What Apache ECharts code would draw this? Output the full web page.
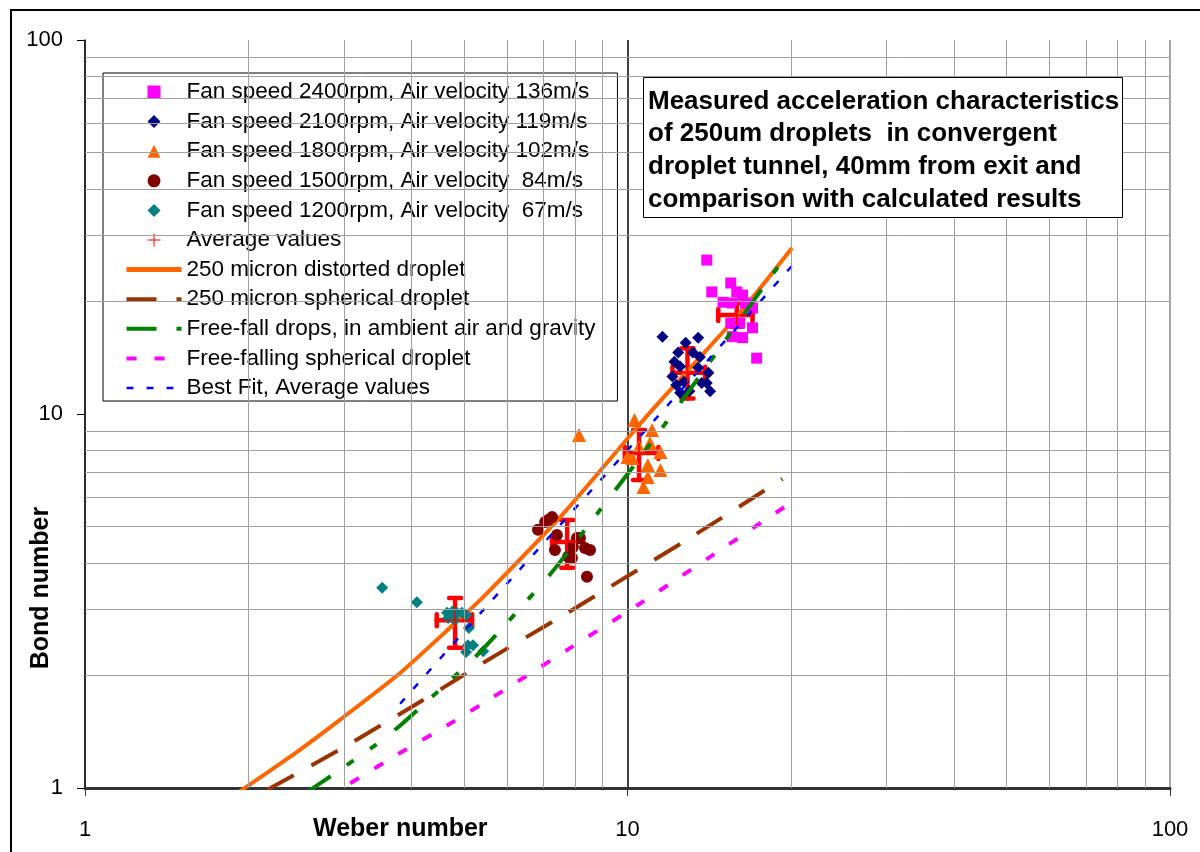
<!DOCTYPE html>
<html>
<head>
<meta charset="utf-8">
<title>Bond number vs Weber number</title>
<script src="https://cdn.jsdelivr.net/npm/echarts@6/dist/echarts.min.js"></script>
<style>
  html, body { margin: 0; padding: 0; background: #fff; }
  #chart { width: 1200px; height: 852px; }
</style>
</head>
<body>
<div id="chart"></div>
<script>
// measured points [Weber, Bond]
const fan2400 = [[14.0, 25.8], [15.5, 22.4], [14.3, 21.2], [15.9, 21.2], [16.3, 20.8], [15.0, 19.9], [15.6, 19.8],
  [16.5, 19.8], [17.0, 19.2], [15.5, 17.5], [16.1, 17.5], [17.0, 17.0], [15.6, 16.1], [16.3, 16.0], [17.3, 14.1]]
const fan2100 = [[11.6, 16.1], [12.8, 15.5], [13.5, 16.0], [12.4, 14.6], [13.2, 14.6], [13.6, 14.2], [12.2, 13.8],
  [12.5, 13.4], [13.5, 13.3], [14.1, 12.9], [12.1, 12.6], [12.7, 12.2], [12.3, 11.95], [13.7, 12.1], [14.0, 12.1],
  [13.0, 11.5], [12.5, 11.4], [14.2, 11.5]]
const fan1800 = [[10.3, 9.64], [8.14, 8.79], [11.1, 9.06], [10.5, 8.16], [11.0, 8.36], [10.0, 7.67], [10.2, 7.63],
  [11.5, 7.91], [10.9, 7.30], [10.9, 6.79], [11.5, 7.08], [10.7, 6.38]]
const fan1500 = [[7.26, 5.30], [7.14, 5.21], [7.05, 5.14], [6.84, 4.90], [7.41, 4.75], [8.07, 4.66], [8.17, 4.66],
  [7.93, 4.41], [8.35, 4.38], [8.53, 4.33], [7.35, 4.33], [7.77, 4.15], [7.90, 4.12], [8.42, 3.67]]
const fan1200 = [[3.53, 3.43], [4.09, 3.14], [4.65, 2.94], [4.75, 2.96], [4.85, 2.94], [4.95, 2.94], [5.04, 2.90],
  [4.67, 2.85], [4.80, 2.81], [5.10, 2.68], [5.08, 2.41], [5.19, 2.41], [5.04, 2.31], [5.42, 2.32]]

// averages: [x, y, xLow, xHigh, yLow, yHigh]
const averages = [
  [4.81, 2.81, 4.45, 5.17, 2.37, 3.22],
  [7.74, 4.55, 7.26, 8.28, 3.88, 5.21],
  [10.5, 7.87, 9.89, 11.4, 6.66, 9.06],
  [12.9, 12.9, 12.1, 13.9, 11.0, 15.0],
  [15.9, 18.4, 14.7, 17.0, 17.1, 19.8]
]

// calculated curves
const distorted = [[1.81, 0.92], [2.46, 1.25], [3.0, 1.55], [3.81, 2.03], [4.81, 2.76], [5.35, 3.18], [7.6, 5.4],
  [10.7, 9.64], [13.0, 13.2], [16.1, 18.6], [20.1, 27.8]]
const spherical = [[2.17, 0.99], [2.93, 1.26], [4.29, 1.75], [5.53, 2.20], [7.57, 2.88], [9.13, 3.40], [13.3, 4.75], [19.3, 6.70]]
const freeFall = [[2.55, 0.97], [2.85, 1.08], [3.45, 1.31], [3.81, 1.47], [4.47, 1.81], [5.35, 2.31], [7.26, 3.78],
  [8.9, 5.54], [10.2, 7.17], [11.8, 9.52], [14.6, 14.6], [18.9, 24.6], [19.9, 26.1]]
const freeFallSph = [[2.79, 0.94], [3.05, 1.02], [3.77, 1.23], [4.65, 1.47], [5.65, 1.75], [7.74, 2.34], [10.5, 3.10],
  [14.2, 4.15], [19.5, 5.65]]
const bestFit = [[3.81, 1.68], [5.42, 2.99], [10, 8.0], [20.4, 25.5]]

// gridlines
const minorTicks = [2, 3, 4, 5, 6, 7, 8, 9, 20, 30, 40, 50, 60, 70, 80, 90]

const titleLines = [
  'Measured acceleration characteristics',
  'of 250um droplets  in convergent',
  'droplet tunnel, 40mm from exit and',
  'comparison with calculated results'
]

const FONT = 'Liberation Sans, Arial, sans-serif'
const chart = echarts.init(document.getElementById('chart'))

const names = [
  'Fan speed 2400rpm, Air velocity 136m/s',
  'Fan speed 2100rpm, Air velocity 119m/s',
  'Fan speed 1800rpm, Air velocity 102m/s',
  'Fan speed 1500rpm, Air velocity  84m/s',
  'Fan speed 1200rpm, Air velocity  67m/s',
  'Average values',
  '250 micron distorted droplet',
  '250 micron spherical droplet',
  'Free-fall drops, in ambient air and gravity',
  'Free-falling spherical droplet',
  'Best Fit, Average values'
]

const plusPath = 'path://M0,9.2H20V10.8H0Z M9.2,0H10.8V20H9.2Z'
const squarePath = 'path://M0,0H10V10H0Z'
const diamondPath = 'path://M5,0L10,5L5,10L0,5Z'
const trianglePath = 'path://M5,0L10,10L0,10Z'

// legend icons: fixed shapes for markers, plain thick strokes for the lines
const legendIcons = [squarePath, diamondPath, trianglePath, 'circle', diamondPath, plusPath]
const legendWidths = [5, 4, 4, 4, 2.5]
const legendData = names.map((n, i) => {
  if (i < legendIcons.length) return { name: n, icon: legendIcons[i] }
  return { name: n, itemStyle: { opacity: 0 }, lineStyle: { width: legendWidths[i - 6] } }
})

const gridLines = []
minorTicks.forEach(v => {
  gridLines.push({ xAxis: v })
  gridLines.push({ yAxis: v })
})

const option = {
  animation: false,
  backgroundColor: '#fff',
  title: {
    text: titleLines.join('\n'),
    left: 643,
    top: 77,
    padding: [8, 4, 2, 5],
    borderColor: '#000',
    borderWidth: 1,
    backgroundColor: '#fff',
    textStyle: { fontFamily: FONT, fontSize: 26, fontWeight: 'bold', color: '#000', lineHeight: 32.7 }
  },
  legend: {
    orient: 'vertical',
    left: 103,
    top: 73,
    selectedMode: false,
    padding: [6, 22, 0, 21],
    borderColor: '#000',
    borderWidth: 1,
    backgroundColor: '#fff',
    itemWidth: 55,
    itemHeight: 13,
    itemGap: 3.6,
    textStyle: { fontFamily: FONT, fontSize: 22.5, color: '#000', lineHeight: 26 },
    data: legendData
  },
  grid: { left: 85, top: 40, right: 30, bottom: 64 },
  xAxis: {
    type: 'log',
    logBase: 10,
    min: 1,
    max: 100,
    axisLine: { show: true, onZero: false, lineStyle: { color: '#333', width: 3 } },
    axisTick: { show: true, length: 8, lineStyle: { color: '#333', width: 1 } },
    axisLabel: { fontFamily: FONT, fontSize: 22, color: '#000', margin: 31 },
    splitLine: { show: true, lineStyle: { color: ['#888', '#000', '#888'], width: 1.5 } }
  },
  yAxis: {
    type: 'log',
    logBase: 10,
    min: 1,
    max: 100,
    axisLine: { show: true, onZero: false, lineStyle: { color: '#000', width: 1.5 } },
    axisTick: { show: true, length: 8, lineStyle: { color: '#000', width: 1 } },
    axisLabel: { fontFamily: FONT, fontSize: 22, color: '#000', margin: 22 },
    splitLine: { show: true, lineStyle: { color: ['#333', '#000', '#888'], width: [1, 1.5, 2.5] } }
  },
  graphic: [
    {
      type: 'rect', silent: true, z: -10,
      shape: { x: 11, y: 10, width: 1300, height: 1000 },
      style: { fill: 'none', stroke: '#000', lineWidth: 2 }
    },
    {
      type: 'text', left: 313, top: 817,
      style: { text: 'Weber number', fontFamily: FONT, fontSize: 25, fontWeight: 'bold', fill: '#000' }
    },
    {
      type: 'text', x: 41, y: 588, rotation: Math.PI / 2,
      style: {
        text: 'Bond number', fontFamily: FONT, fontSize: 25, fontWeight: 'bold', fill: '#000',
        align: 'center', verticalAlign: 'middle'
      },
      originX: 0, originY: 0
    }
  ],
  series: [
    {
      name: 'grid',
      type: 'line',
      data: [],
      z: 1,
      silent: true,
      markLine: {
        silent: true,
        symbol: ['none', 'none'],
        label: { show: false },
        lineStyle: { color: '#a0a0a0', width: 1, type: 'solid' },
        emphasis: { disabled: true },
        data: gridLines
      }
    },
    {
      name: 'errorBars',
      type: 'custom',
      z: 2,
      silent: true,
      data: averages,
      renderItem: (params, api) => {
        const x = api.value(0), y = api.value(1)
        const l = api.coord([api.value(2), y])
        const r = api.coord([api.value(3), y])
        const b = api.coord([x, api.value(4)])
        const t = api.coord([x, api.value(5)])
        const st = { stroke: '#ff0000', lineWidth: 4.5, lineCap: 'round' }
        const cap = 6
        const seg = (x1, y1, x2, y2) => ({ type: 'line', shape: { x1, y1, x2, y2 }, style: st })
        return {
          type: 'group',
          children: [
            seg(l[0], l[1], r[0], r[1]),
            seg(b[0], b[1], t[0], t[1]),
            seg(l[0], l[1] - cap, l[0], l[1] + cap),
            seg(r[0], r[1] - cap, r[0], r[1] + cap),
            seg(b[0] - cap, b[1], b[0] + cap, b[1]),
            seg(t[0] - cap, t[1], t[0] + cap, t[1])
          ]
        }
      }
    },
    {
      name: names[6], type: 'line', data: distorted, smooth: 0.2, symbol: 'none', z: 2,
      lineStyle: { color: '#ff6600', width: 4 }, itemStyle: { color: '#ff6600' }
    },
    {
      name: names[0], type: 'scatter', data: fan2400, symbol: 'rect', symbolSize: 11, z: 3,
      itemStyle: { color: '#ff00ff', opacity: 1 }
    },
    {
      name: names[1], type: 'scatter', data: fan2100, symbol: 'diamond', symbolSize: 12, z: 3,
      itemStyle: { color: '#000080', opacity: 1 }
    },
    {
      name: names[2], type: 'scatter', data: fan1800, symbol: 'triangle', symbolSize: 14, z: 3,
      itemStyle: { color: '#ff6600', opacity: 1 }
    },
    {
      name: names[3], type: 'scatter', data: fan1500, symbol: 'circle', symbolSize: 12, z: 3,
      itemStyle: { color: '#800000', opacity: 1 }
    },
    {
      name: names[4], type: 'scatter', data: fan1200, symbol: 'diamond', symbolSize: 12, z: 3,
      itemStyle: { color: '#008080', opacity: 1 }
    },
    {
      name: names[7], type: 'line', data: spherical, smooth: 0.2, symbol: 'none', z: 4,
      lineStyle: { color: '#993300', width: 4, type: [30, 20] }, itemStyle: { color: '#993300' }
    },
    {
      name: names[8], type: 'line', data: freeFall, smooth: 0.2, symbol: 'none', z: 4,
      lineStyle: { color: '#008000', width: 4, type: [30, 20, 8, 20, 8, 23] }, itemStyle: { color: '#008000' }
    },
    {
      name: names[9], type: 'line', data: freeFallSph, smooth: 0.2, symbol: 'none', z: 4,
      lineStyle: { color: '#ff00ff', width: 4, type: [10, 18] }, itemStyle: { color: '#ff00ff' }
    },
    {
      name: names[10], type: 'line', data: bestFit, smooth: 0.2, symbol: 'none', z: 4,
      lineStyle: { color: '#0000ff', width: 2.5, type: [7, 13] }, itemStyle: { color: '#0000ff' }
    },
    {
      name: names[5], type: 'scatter', data: averages.map(a => [a[0], a[1]]), symbol: plusPath, symbolSize: 20, z: 6,
      itemStyle: { color: '#ff0000', opacity: 1 }
    }
  ]
}

chart.setOption(option)
</script>
</body>
</html>
